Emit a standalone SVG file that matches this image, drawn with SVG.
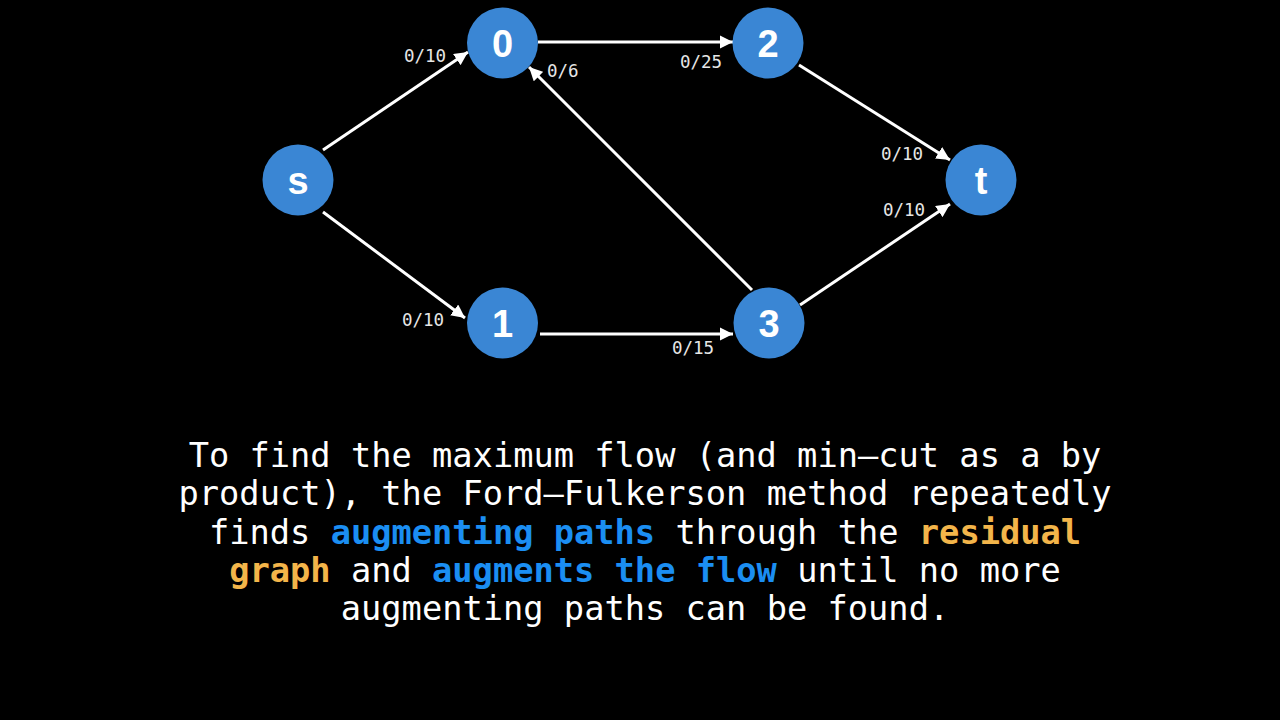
<svg xmlns="http://www.w3.org/2000/svg" width="1280" height="720" viewBox="0 0 1280 720">
<style>
.node circle{fill:#3a86d4}
.node text{fill:#ffffff;font-family:"Liberation Sans",Arial,sans-serif;font-weight:bold;font-size:38px;text-anchor:middle}
.edge{stroke:#ffffff;stroke-width:3;fill:none;marker-end:url(#arrow)}
.lbl{fill:#e6e6e6;font-family:"DejaVu Sans Mono",monospace;font-size:17.5px}
.body{fill:#ffffff;font-family:"DejaVu Sans Mono",monospace;font-size:33.7px;text-anchor:middle}
.b{fill:#1b8ef2;font-weight:bold}
.o{fill:#f3b54a;font-weight:bold}
</style>
<defs>
<marker id="arrow" viewBox="0 0 10 10" refX="10" refY="5" markerWidth="4.5" markerHeight="4.5" orient="auto" markerUnits="strokeWidth">
<path d="M0,0 L10,5 L0,10 z" fill="#ffffff"/>
</marker>
</defs>
<rect width="1280" height="720" fill="#000000"/>
<g id="connectors">
<line class="edge" x1="323" y1="150" x2="468" y2="52"/>
<line class="edge" x1="538" y1="42" x2="733" y2="42"/>
<line class="edge" x1="799" y1="65" x2="950" y2="160"/>
<line class="edge" x1="800" y1="305" x2="950" y2="204"/>
<line class="edge" x1="752" y1="290" x2="529" y2="67"/>
<line class="edge" x1="323" y1="212" x2="465" y2="318"/>
<line class="edge" x1="540" y1="334" x2="733" y2="334"/>
</g>
<g id="edge-labels">
<text class="lbl" x="404" y="62">0/10</text>
<text class="lbl" x="547" y="77">0/6</text>
<text class="lbl" x="680" y="68">0/25</text>
<text class="lbl" x="881" y="160">0/10</text>
<text class="lbl" x="883" y="216">0/10</text>
<text class="lbl" x="402" y="326">0/10</text>
<text class="lbl" x="672" y="354">0/15</text>
</g>
<g id="node-s" class="node"><circle cx="298" cy="180" r="35.5"/><text x="298" y="194">s</text></g>
<g id="node-0" class="node"><circle cx="502.5" cy="43" r="35.5"/><text x="502.5" y="57">0</text></g>
<g id="node-2" class="node"><circle cx="768" cy="43" r="35.5"/><text x="768" y="57">2</text></g>
<g id="node-t" class="node"><circle cx="981" cy="180" r="35.5"/><text x="981" y="194">t</text></g>
<g id="node-1" class="node"><circle cx="502.5" cy="323" r="35.5"/><text x="502.5" y="337">1</text></g>
<g id="node-3" class="node"><circle cx="769" cy="323" r="35.5"/><text x="769" y="337">3</text></g>
<g id="caption">
<text class="body" x="645" y="467" xml:space="preserve">To find the maximum flow (and min–cut as a by</text>
<text class="body" x="645" y="505.3">product), the Ford–Fulkerson method repeatedly</text>
<text class="body" x="645" y="543.6">finds <tspan class="b">augmenting paths</tspan> through the <tspan class="o">residual</tspan></text>
<text class="body" x="645" y="582">
<tspan class="o">graph</tspan> and <tspan class="b">augments the flow</tspan> until no more</text>
<text class="body" x="645" y="620">augmenting paths can be found.</text>
</g>
</svg>
